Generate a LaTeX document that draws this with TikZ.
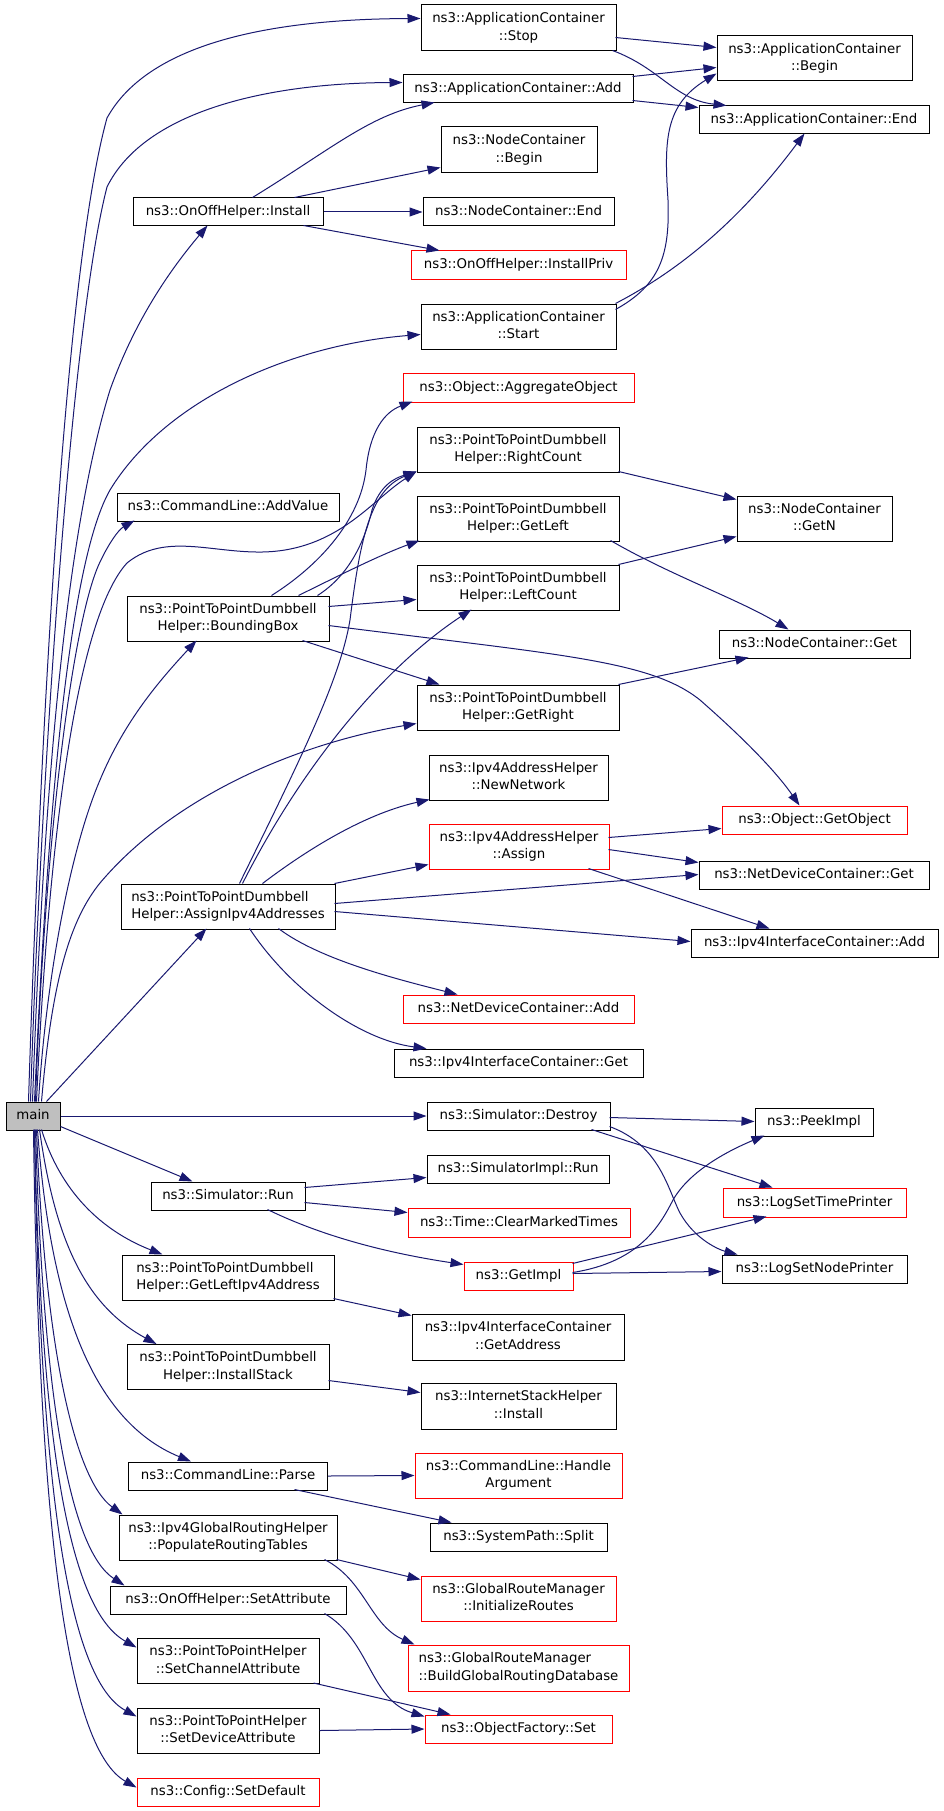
\documentclass[tikz,border=0pt]{standalone}
\usepackage{fontspec}
\setmainfont{DejaVu Sans}
\usetikzlibrary{arrows.meta,calc}
\definecolor{edgeblue}{HTML}{191970}
\definecolor{boxred}{HTML}{FF0000}
\definecolor{maingray}{HTML}{BFBFBF}
\begin{document}
\begin{tikzpicture}[x=1pt,y=-1pt,
  fn/.style={draw=black, line width=1pt, fill=white, inner sep=0pt, align=center,
    font=\fontsize{13.33}{17.5}\selectfont},
  fnr/.style={fn, draw=boxred},
  arr/.style={draw=edgeblue, line width=1pt, -{Triangle[length=13pt,width=9pt]}}]
\useasboundingbox[fill=white] (0,0) rectangle (944,1811);

% ---------------- nodes ----------------
\node[fn, minimum width=195pt, minimum height=46pt] (stop) at (518.5,28) {\strut ns3::ApplicationContainer\\\strut ::Stop};
\node[fn, minimum width=195pt, minimum height=45pt] (begin) at (814.5,58.5) {\strut ns3::ApplicationContainer\\\strut ::Begin};
\node[fn, minimum width=230pt, minimum height=28pt] (add) at (518,89) {\strut ns3::ApplicationContainer::Add};
\node[fn, minimum width=230pt, minimum height=28pt] (endA) at (814,120) {\strut ns3::ApplicationContainer::End};
\node[fn, minimum width=156pt, minimum height=46pt] (ncbegin) at (519,150) {\strut ns3::NodeContainer\\\strut ::Begin};
\node[fn, minimum width=190pt, minimum height=28pt] (install) at (228,212) {\strut ns3::OnOffHelper::Install};
\node[fn, minimum width=191pt, minimum height=28pt] (ncend) at (518.5,212) {\strut ns3::NodeContainer::End};
\node[fnr, minimum width=215pt, minimum height=28pt] (installpriv) at (518.5,265) {\strut ns3::OnOffHelper::InstallPriv};
\node[fn, minimum width=195pt, minimum height=45pt] (start) at (518.5,326.5) {\strut ns3::ApplicationContainer\\\strut ::Start};
\node[fnr, minimum width=231pt, minimum height=29pt] (aggregate) at (518.5,387.5) {\strut ns3::Object::AggregateObject};
\node[fn, minimum width=202pt, minimum height=45pt] (rightcount) at (518,449.5) {\strut ns3::PointToPointDumbbell\\\strut Helper::RightCount};
\node[fn, minimum width=222pt, minimum height=28pt] (addvalue) at (228,507) {\strut ns3::CommandLine::AddValue};
\node[fn, minimum width=202pt, minimum height=45pt] (getleft) at (518,518.5) {\strut ns3::PointToPointDumbbell\\\strut Helper::GetLeft};
\node[fn, minimum width=155pt, minimum height=45pt] (getn) at (814.5,518.5) {\strut ns3::NodeContainer\\\strut ::GetN};
\node[fn, minimum width=202pt, minimum height=45pt] (leftcount) at (518,587.5) {\strut ns3::PointToPointDumbbell\\\strut Helper::LeftCount};
\node[fn, minimum width=202pt, minimum height=45pt] (bbox) at (228,618.5) {\strut ns3::PointToPointDumbbell\\\strut Helper::BoundingBox};
\node[fn, minimum width=191pt, minimum height=28pt] (ncget) at (814.5,644) {\strut ns3::NodeContainer::Get};
\node[fn, minimum width=202pt, minimum height=45pt] (getright) at (518,707.5) {\strut ns3::PointToPointDumbbell\\\strut Helper::GetRight};
\node[fn, minimum width=179pt, minimum height=45pt] (newnetwork) at (518.5,777.5) {\strut ns3::Ipv4AddressHelper\\\strut ::NewNetwork};
\node[fnr, minimum width=185pt, minimum height=28pt] (getobject) at (814.5,820) {\strut ns3::Object::GetObject};
\node[fnr, minimum width=180pt, minimum height=45pt] (assign) at (519,846.5) {\strut ns3::Ipv4AddressHelper\\\strut ::Assign};
\node[fn, minimum width=230pt, minimum height=28pt] (ndcget) at (814,875) {\strut ns3::NetDeviceContainer::Get};
\node[fn, align=left, minimum width=214pt, minimum height=45pt] (assignipv4) at (228,906.5) {\strut ns3::PointToPointDumbbell\\\strut Helper::AssignIpv4Addresses};
\node[fn, minimum width=247pt, minimum height=28pt] (iicadd) at (814.5,943) {\strut ns3::Ipv4InterfaceContainer::Add};
\node[fnr, minimum width=231pt, minimum height=28pt] (ndcadd) at (518.5,1009) {\strut ns3::NetDeviceContainer::Add};
\node[fn, minimum width=249pt, minimum height=28pt] (iicget) at (518.5,1063) {\strut ns3::Ipv4InterfaceContainer::Get};
\node[fn, fill=maingray, minimum width=54pt, minimum height=28pt] (main) at (33,1116) {\strut main};
\node[fn, minimum width=183pt, minimum height=28pt] (destroy) at (518.5,1116) {\strut ns3::Simulator::Destroy};
\node[fn, minimum width=118pt, minimum height=28pt] (peekimpl) at (814,1122) {\strut ns3::PeekImpl};
\node[fn, minimum width=182pt, minimum height=28pt] (simimplrun) at (518,1169) {\strut ns3::SimulatorImpl::Run};
\node[fn, minimum width=154pt, minimum height=28pt] (simrun) at (228,1196) {\strut ns3::Simulator::Run};
\node[fnr, minimum width=183pt, minimum height=29pt] (logtime) at (814.5,1202.5) {\strut ns3::LogSetTimePrinter};
\node[fnr, minimum width=222pt, minimum height=29pt] (clearmarked) at (519,1222.5) {\strut ns3::Time::ClearMarkedTimes};
\node[fn, align=left, minimum width=212pt, minimum height=45pt] (getleftipv4) at (228,1277.5) {\strut ns3::PointToPointDumbbell\\\strut Helper::GetLeftIpv4Address};
\node[fnr, minimum width=109pt, minimum height=28pt] (getimpl) at (518.5,1276) {\strut ns3::GetImpl};
\node[fn, minimum width=185pt, minimum height=28pt] (lognode) at (814.5,1269) {\strut ns3::LogSetNodePrinter};
\node[fn, minimum width=212pt, minimum height=46pt] (getaddress) at (518,1337) {\strut ns3::Ipv4InterfaceContainer\\\strut ::GetAddress};
\node[fn, minimum width=202pt, minimum height=45pt] (installstack) at (228,1367) {\strut ns3::PointToPointDumbbell\\\strut Helper::InstallStack};
\node[fn, minimum width=195pt, minimum height=46pt] (ishinstall) at (518.5,1406) {\strut ns3::InternetStackHelper\\\strut ::Install};
\node[fn, minimum width=199pt, minimum height=28pt] (parse) at (228,1476) {\strut ns3::CommandLine::Parse};
\node[fnr, minimum width=207pt, minimum height=45pt] (handlearg) at (518.5,1475.5) {\strut ns3::CommandLine::Handle\\\strut Argument};
\node[fn, minimum width=177pt, minimum height=28pt] (split) at (518.5,1537) {\strut ns3::SystemPath::Split};
\node[fn, minimum width=218pt, minimum height=45pt] (populate) at (228,1537.5) {\strut ns3::Ipv4GlobalRoutingHelper\\\strut ::PopulateRoutingTables};
\node[fnr, minimum width=195pt, minimum height=45pt] (initroutes) at (518.5,1598.5) {\strut ns3::GlobalRouteManager\\\strut ::InitializeRoutes};
\node[fn, minimum width=236pt, minimum height=28pt] (onoffset) at (228,1600) {\strut ns3::OnOffHelper::SetAttribute};
\node[fnr, align=left, minimum width=221pt, minimum height=46pt] (buildgrd) at (518.5,1668) {\strut ns3::GlobalRouteManager\\\strut ::BuildGlobalRoutingDatabase};
\node[fn, minimum width=182pt, minimum height=45pt] (setchannel) at (228,1661) {\strut ns3::PointToPointHelper\\\strut ::SetChannelAttribute};
\node[fnr, minimum width=187pt, minimum height=28pt] (objfactset) at (518.5,1729) {\strut ns3::ObjectFactory::Set};
\node[fn, minimum width=182pt, minimum height=45pt] (setdevice) at (228,1730.5) {\strut ns3::PointToPointHelper\\\strut ::SetDeviceAttribute};
\node[fnr, minimum width=182pt, minimum height=28pt] (configdefault) at (228,1792) {\strut ns3::Config::SetDefault};

% ---------------- edges from main (upwards) ----------------
\draw[arr] ($(main.north west)+(23,0)$) .. controls (38,800) and (62,280) .. (107,118) .. controls (150,40) and (280,19) .. ($(stop.north west)+(0,14)$);
\draw[arr] ($(main.north west)+(25,0)$) .. controls (40,800) and (70,330) .. (107,187) .. controls (145,110) and (270,83) .. ($(add.north west)+(0,8)$);
\draw[arr] ($(main.north west)+(27,0)$) .. controls (45,750) and (70,520) .. (110,390) .. controls (135,320) and (170,270) .. ($(install.north west)+(75,28)$);
\draw[arr] ($(main.north west)+(29,0)$) .. controls (48,800) and (70,560) .. (110,490) .. controls (165,400) and (290,345) .. ($(start.north west)+(0,31)$);
\draw[arr] ($(main.north west)+(30,0)$) .. controls (44,850) and (72,620) .. (100,562) .. controls (108,545) and (118,530) .. ($(addvalue.north west)+(18,28)$);
\draw[arr] ($(main.north west)+(31,0)$) .. controls (48,850) and (75,620) .. (127,563) .. controls (170,528) and (225,560) .. (285,550) .. controls (345,540) and (375,498) .. ($(rightcount.north west)+(0,45)$);
\draw[arr] ($(main.north west)+(33,0)$) .. controls (46,980) and (70,850) .. (100,780) .. controls (125,720) and (160,680) .. ($(bbox.north west)+(70,45)$);
\draw[arr] ($(main.north west)+(36,0)$) .. controls (52,980) and (70,920) .. (100,883) .. controls (170,800) and (290,745) .. ($(getright.north west)+(0,39)$);
\draw[arr] ($(main.north west)+(41,0)$) -- ($(assignipv4.north west)+(86,45)$);
\draw[arr] (main.east) -- (destroy.west);
\draw[arr] ($(main.north west)+(55,25)$) -- ($(simrun.north west)+(42,0)$);

% ---------------- edges from main (downwards) ----------------
\draw[arr] ($(main.north west)+(36,28)$) .. controls (60,1190) and (100,1230) .. ($(getleftipv4.north west)+(41,0)$);
\draw[arr] ($(main.north west)+(34,28)$) .. controls (55,1240) and (85,1305) .. ($(installstack.north west)+(30,0)$);
\draw[arr] ($(main.north west)+(32,28)$) .. controls (50,1300) and (90,1420) .. ($(parse.north west)+(63,0)$);
\draw[arr] ($(main.north west)+(31,28)$) .. controls (45,1350) and (75,1480) .. ($(populate.north west)+(4,0)$);
\draw[arr] ($(main.north west)+(30,28)$) .. controls (43,1400) and (70,1550) .. ($(onoffset.north west)+(15,0)$);
\draw[arr] ($(main.north west)+(29,28)$) .. controls (41,1450) and (70,1610) .. ($(setchannel.north west)+(0,9.5)$);
\draw[arr] ($(main.north west)+(29,28)$) .. controls (40,1500) and (70,1680) .. ($(setdevice.north west)+(0,9)$);
\draw[arr] ($(main.north west)+(28,28)$) .. controls (39,1550) and (70,1750) .. ($(configdefault.north west)+(0,10)$);

% ---------------- OnOffHelper::Install ----------------
\draw[arr] ($(install.north west)+(120,0)$) .. controls (330,150) and (370,115) .. ($(add.north west)+(32,28)$);
\draw[arr] ($(install.north west)+(162,0)$) -- ($(ncbegin.north west)+(0,41)$);
\draw[arr] (install.east) -- (ncend.west);
\draw[arr] ($(install.north west)+(171,28)$) -- ($(installpriv.north west)+(29,0)$);

% ---------------- ApplicationContainer ----------------
\draw[arr] ($(stop.north west)+(195,33)$) -- ($(begin.north west)+(0,12)$);
\draw[arr] ($(stop.north west)+(192,46)$) .. controls (660,68) and (675,100) .. ($(endA.north west)+(28,0)$);
\draw[arr] ($(add.north west)+(230,2)$) -- ($(begin.north west)+(0,32)$);
\draw[arr] ($(add.north west)+(230,26)$) -- ($(endA.north west)+(0,2)$);
\draw[arr] ($(start.north west)+(195,6)$) .. controls (660,285) and (670,255) .. (668,200) .. controls (664,140) and (665,105) .. ($(begin.north west)+(0,38)$);
\draw[arr] ($(start.north west)+(195,0)$) .. controls (680,270) and (740,220) .. ($(endA.north west)+(106,28)$);

% ---------------- Dumbbell helpers ----------------
\draw[arr] ($(rightcount.north west)+(202,45)$) -- ($(getn.north west)+(0,4)$);
\draw[arr] ($(getleft.north west)+(194,45)$) .. controls (670,575) and (740,600) .. ($(ncget.north west)+(70,0)$);
\draw[arr] ($(leftcount.north west)+(202,0)$) -- ($(getn.north west)+(0,41)$);
\draw[arr] ($(getright.north west)+(202,0)$) -- ($(ncget.north west)+(30,28)$);

\draw[arr] ($(bbox.north west)+(145,0)$) .. controls (320,565) and (360,520) .. (366,470) .. controls (370,430) and (385,412) .. ($(aggregate.north west)+(10,29)$);
\draw[arr] ($(bbox.north west)+(191,0)$) .. controls (350,575) and (365,540) .. (372,510) .. controls (380,485) and (395,478) .. ($(rightcount.north west)+(0,45)$);
\draw[arr] ($(bbox.north west)+(172,0)$) .. controls (340,575) and (380,555) .. ($(getleft.north west)+(3,45)$);
\draw[arr] ($(bbox.north west)+(202,11)$) -- ($(leftcount.north west)+(0,35)$);
\draw[arr] ($(bbox.north west)+(202,30)$) .. controls (560,655) and (650,660) .. (700,700) .. controls (740,735) and (775,770) .. ($(getobject.north west)+(78,0)$);
\draw[arr] ($(bbox.north west)+(176,45)$) -- ($(getright.north west)+(23,0)$);

% ---------------- AssignIpv4Addresses ----------------
\draw[arr] ($(assignipv4.north west)+(119,0)$) .. controls (300,760) and (340,680) .. (350,620) .. controls (360,540) and (370,490) .. ($(rightcount.north west)+(0,45)$);
\draw[arr] ($(assignipv4.north west)+(122,0)$) .. controls (300,770) and (380,670) .. ($(leftcount.north west)+(55,45)$);
\draw[arr] ($(assignipv4.north west)+(142,0)$) .. controls (300,855) and (360,815) .. ($(newnetwork.north west)+(1,45)$);
\draw[arr] ($(assignipv4.north west)+(214,0)$) -- ($(assign.north west)+(0,41)$);
\draw[arr] ($(assignipv4.north west)+(214,20)$) -- ($(ndcget.north west)+(0,14)$);
\draw[arr] ($(assignipv4.north west)+(214,28)$) -- ($(iicadd.north west)+(0,13)$);
\draw[arr] ($(assignipv4.north west)+(158,45)$) .. controls (320,960) and (400,980) .. ($(ndcadd.north west)+(55,0)$);
\draw[arr] ($(assignipv4.north west)+(129,45)$) .. controls (290,990) and (360,1040) .. ($(iicget.north west)+(33,0)$);

\draw[arr] ($(assign.north west)+(180,14)$) -- ($(getobject.north west)+(0,23)$);
\draw[arr] ($(assign.north west)+(180,26)$) -- ($(ndcget.north west)+(0,2)$);
\draw[arr] ($(assign.north west)+(160,45)$) -- ($(iicadd.north west)+(79,0)$);

% ---------------- Simulator ----------------
\draw[arr] ($(destroy.north west)+(183,16)$) -- ($(peekimpl.north west)+(0,14)$);
\draw[arr] ($(destroy.north west)+(165,28)$) -- ($(logtime.north west)+(50,0)$);
\draw[arr] ($(destroy.north west)+(183,25)$) .. controls (660,1145) and (668,1190) .. (680,1213) .. controls (695,1240) and (720,1250) .. ($(lognode.north west)+(16,0)$);

\draw[arr] ($(simrun.north west)+(154,6)$) -- ($(simimplrun.north west)+(0,23)$);
\draw[arr] ($(simrun.north west)+(154,21)$) -- ($(clearmarked.north west)+(0,5)$);
\draw[arr] ($(simrun.north west)+(117,28)$) .. controls (330,1240) and (400,1255) .. ($(getimpl.north west)+(0,3)$);

\draw[arr] ($(getimpl.north west)+(109,11)$) .. controls (640,1262) and (660,1225) .. (673,1200) .. controls (690,1170) and (730,1150) .. ($(peekimpl.north west)+(10,28)$);
\draw[arr] ($(getimpl.north west)+(109,2)$) -- ($(logtime.north west)+(44,29)$);
\draw[arr] ($(getimpl.north west)+(109,12)$) -- ($(lognode.north west)+(0,17)$);

% ---------------- lower helpers ----------------
\draw[arr] ($(getleftipv4.north west)+(212,44)$) -- ($(getaddress.north west)+(0,2)$);
\draw[arr] ($(installstack.north west)+(202,36.5)$) -- ($(ishinstall.north west)+(0,10)$);
\draw[arr] (parse.east) -- (handlearg.west);
\draw[arr] ($(parse.north west)+(166.5,28)$) -- ($(split.north west)+(22,0)$);
\draw[arr] ($(populate.north west)+(218,45)$) -- ($(initroutes.north west)+(0,4)$);
\draw[arr] ($(populate.north west)+(206,45)$) .. controls (365,1580) and (370,1625) .. ($(buildgrd.north west)+(7,0)$);
\draw[arr] ($(onoffset.north west)+(215,28)$) .. controls (370,1640) and (370,1700) .. ($(objfactset.north west)+(0,2)$);
\draw[arr] ($(setchannel.north west)+(177,45)$) -- ($(objfactset.north west)+(26,0)$);
\draw[arr] (setdevice.east) -- (objfactset.west);
\end{tikzpicture}
\end{document}
